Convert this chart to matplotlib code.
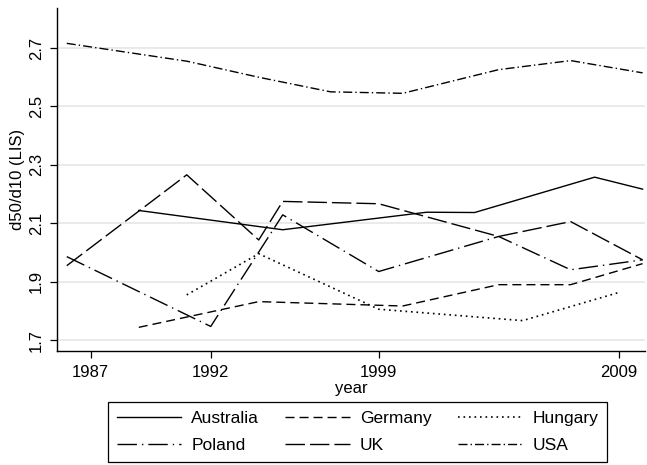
import matplotlib.pyplot as plt

plt.rcParams['font.family'] = ['Liberation Sans', 'DejaVu Sans']

# d50/d10 ratios by LIS wave
aus_years = [1989, 1995, 2001, 2003, 2008, 2010]
aus_vals = [2.144, 2.078, 2.138, 2.137, 2.258, 2.217]

deu_years = [1989, 1994, 2000, 2004, 2007, 2010]
deu_vals = [1.744, 1.832, 1.817, 1.890, 1.890, 1.962]

hun_years = [1991, 1994, 1999, 2005, 2009]
hun_vals = [1.855, 1.996, 1.806, 1.767, 1.863]

pol_years = [1986, 1992, 1995, 1999, 2004, 2007, 2010]
pol_vals = [1.986, 1.747, 2.129, 1.935, 2.055, 1.941, 1.975]

gbr_years = [1986, 1991, 1994, 1995, 1999, 2004, 2007, 2010]
gbr_vals = [1.955, 2.266, 2.043, 2.175, 2.167, 2.055, 2.106, 1.975]

usa_years = [1986, 1991, 1994, 1997, 2000, 2004, 2007, 2010]
usa_vals = [2.716, 2.655, 2.600, 2.550, 2.545, 2.626, 2.657, 2.615]

x_ticks = [1987, 1992, 1999, 2009]
y_ticks = [1.7, 1.9, 2.1, 2.3, 2.5, 2.7]

fig = plt.figure(figsize=(6.47, 4.65), dpi=100)
ax = fig.add_axes([56.7 / 647, 1 - 351 / 465, (645 - 56.7) / 647, (351 - 8) / 465])

lw = 1.0
h_aus, = ax.plot(aus_years, aus_vals, color='black', lw=lw, label='Australia')
h_deu, = ax.plot(deu_years, deu_vals, color='black', lw=lw, linestyle=(0, (6.5, 3.6)), label='Germany')
h_hun, = ax.plot(hun_years, hun_vals, color='black', lw=1.2, linestyle=(0, (1.0, 2.3)), label='Hungary')
h_pol, = ax.plot(pol_years, pol_vals, color='black', lw=lw, linestyle=(0, (14, 3.6, 1.0, 3.6)), label='Poland')
h_gbr, = ax.plot(gbr_years, gbr_vals, color='black', lw=lw, linestyle=(0, (14, 3.6)), label='UK')
h_usa, = ax.plot(usa_years, usa_vals, color='black', lw=lw, linestyle=(0, (6.5, 2.2, 1.0, 2.2)), label='USA')

ax.set_xlim(1985.58, 2010.1)
ax.set_ylim(1.663, 2.837)
ax.set_xticks(x_ticks)
ax.set_yticks(y_ticks)
ax.set_yticklabels([f'{v:.1f}' for v in y_ticks], rotation=90, va='center')
ax.yaxis.grid(True, color='#e8e8e8', lw=1.3)
ax.set_axisbelow(True)

for side in ['top', 'right']:
    ax.spines[side].set_visible(False)
for side in ['left', 'bottom']:
    ax.spines[side].set_linewidth(1.0)

ax.tick_params(axis='both', direction='out', length=5, width=0.9, labelsize=12, pad=4)
ax.tick_params(axis='x', pad=5)

ax.set_ylabel('d50/d10 (LIS)', fontsize=12, labelpad=3)
ax.set_xlabel('year', fontsize=12, labelpad=1)

# legend filled column by column, so order handles to read row-wise
handles = [h_aus, h_pol, h_deu, h_gbr, h_hun, h_usa]
leg = fig.legend(handles=handles, loc='lower center', bbox_to_anchor=(357.5 / 647, 3 / 465), ncol=3,
                 fontsize=12.5, handlelength=3.7, handletextpad=0.6, columnspacing=1.5,
                 labelspacing=0.7, fancybox=False, edgecolor='black', framealpha=1,
                 borderpad=0.5, borderaxespad=0)
leg.get_frame().set_linewidth(0.9)

fig.savefig('out.png', dpi=100)
